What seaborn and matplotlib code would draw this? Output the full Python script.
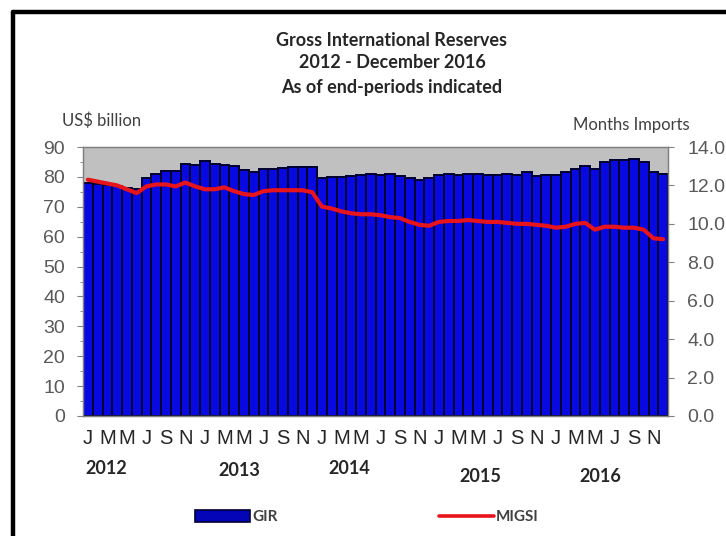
import numpy as np
import pandas as pd
import matplotlib
matplotlib.use("Agg")
import matplotlib.pyplot as plt
import seaborn as sns
from matplotlib.lines import Line2D
from matplotlib.patches import Patch
from matplotlib.ticker import MultipleLocator
from matplotlib.transforms import blended_transform_factory

# ---------------- data ----------------
years = ["2012", "2013", "2014", "2015", "2016"]
month_letters = ["J", "M", "M", "J", "S", "N"]   # labelled months: Jan, Mar, May, Jul, Sep, Nov

gir = [  # Gross International Reserves, US$ billion (end-month)
    77.8, 77.5, 77.2, 77.0, 76.3, 76.1, 79.6, 81.0, 81.9, 82.0, 84.2, 84.1,   # 2012
    85.3, 84.2, 84.0, 83.8, 82.2, 81.5, 82.8, 82.8, 83.1, 83.3, 83.3, 83.2,   # 2013
    79.7, 80.0, 79.9, 80.3, 80.6, 80.8, 80.7, 80.8, 80.2, 79.6, 79.0, 79.5,   # 2014
    80.5, 80.9, 80.7, 80.9, 80.8, 80.6, 80.5, 80.8, 80.6, 81.5, 80.4, 80.6,   # 2015
    80.5, 81.6, 82.8, 83.5, 82.8, 85.0, 85.6, 85.6, 86.1, 85.0, 81.6, 80.9,   # 2016
]
migsi = [  # months of imports of goods & services and income
    12.3, 12.2, 12.1, 12.0, 11.8, 11.6, 11.95, 12.05, 12.05, 11.95, 12.15, 11.95,
    11.8, 11.8, 11.9, 11.7, 11.55, 11.5, 11.7, 11.75, 11.75, 11.75, 11.75, 11.65,
    10.9, 10.8, 10.65, 10.55, 10.5, 10.5, 10.45, 10.35, 10.3, 10.1, 9.95, 9.9,
    10.1, 10.15, 10.15, 10.2, 10.15, 10.1, 10.1, 10.05, 10.0, 10.0, 9.95, 9.9,
    9.8, 9.85, 10.0, 10.05, 9.7, 9.85, 9.85, 9.8, 9.8, 9.7, 9.25, 9.2,
]
year_label_pos = [1.9, 15.5, 26.8, 40.2, 52.6]
year_label_y = [469, 471, 469, 476, 476]   # pixel rows of year labels

# ---------------- style ----------------
sns.set_theme(style="white")
plt.rcParams["font.family"] = ["Liberation Sans", "DejaVu Sans"]

W, H = 726, 536
fig = plt.figure(figsize=(W / 100, H / 100), dpi=100)
fig.patch.set_facecolor("white")

L, R, T, B = 83, 668, 147, 416
ax = fig.add_axes([L / W, 1 - B / H, (R - L) / W, (B - T) / H])

n = len(gir)
df = pd.DataFrame({"idx": np.arange(n), "GIR": gir, "MIGSI": migsi})

BAR_FACE = "#0808E0"
RED = "#E8141B"
sns.barplot(data=df, x="idx", y="GIR", color=BAR_FACE, saturation=1,
            width=1.0, edgecolor="#000030", linewidth=1.4, ax=ax, zorder=2)
ax.set_facecolor("#C0C0C0")

ax2 = ax.twinx()
sns.lineplot(data=df, x="idx", y="MIGSI", color=RED, linewidth=3.0,
             ax=ax2, zorder=3)

ax.set_xlim(-0.5, n - 0.5)
ax.set_ylim(0, 90)
ax2.set_ylim(0, 14)

# y axes
ax.set_yticks(range(0, 91, 10))
ax.yaxis.set_minor_locator(MultipleLocator(5))
ax.tick_params(axis="y", which="major", left=True, length=4.5, width=0.8,
               color="#808080", direction="out", labelsize=14,
               labelcolor="#595959", pad=8.5)
ax.tick_params(axis="y", which="minor", left=True, length=2.5, width=0.6,
               color="#808080", direction="out")
ax2.set_yticks(np.arange(0, 14.1, 2))
ax2.set_yticklabels([f"{v:.1f}" for v in np.arange(0, 14.1, 2)])
ax2.tick_params(axis="y", right=True, length=4.5, width=0.8, color="#808080",
                direction="out", labelsize=14, labelcolor="#595959", pad=9.5)

# x axis
ticks = list(range(0, n, 2))
ax.set_xticks(ticks)
ax.set_xticklabels([month_letters[(t % 12) // 2] for t in ticks])
ax.tick_params(axis="x", bottom=True, length=0, labelsize=14.5,
               labelcolor="#262626", pad=9)
ax.set_xlabel("")
ax.set_ylabel("")
ax2.set_ylabel("")
ax2.set_xlabel("")

for a in (ax, ax2):
    for s in a.spines.values():
        s.set_color("#808080")
        s.set_linewidth(0.9)

# year labels
trans = blended_transform_factory(ax.transData, fig.transFigure)
for yr, xp, yp in zip(years, year_label_pos, year_label_y):
    ax.text(xp, 1 - yp / H, yr, transform=trans, ha="center", va="center",
            fontsize=13, fontweight="bold", color="#262626", family="Lato")

# titles
title_lines = ["Gross International Reserves", "2012 - December 2016",
               "As of end-periods indicated"]
for line, yp in zip(title_lines, [40, 63, 87]):
    fig.text(392 / W, 1 - yp / H, line, ha="center", va="center",
             fontsize=13, fontweight="bold", color="#262626", family="Lato")

fig.text(62 / W, 1 - 121 / H, "US$ billion", ha="left", va="center",
         fontsize=12, color="#404040", family="Lato")
fig.text(573 / W, 1 - 125 / H, "Months Imports", ha="left", va="center",
         fontsize=12, color="#404040", family="Lato")

# legend
handles = [Patch(facecolor="#0505B8", edgecolor="#000030", linewidth=1.2),
           Line2D([0], [0], color=RED, linewidth=2.6)]
leg = fig.legend(handles, ["GIR", "MIGSI"], loc="center",
                 bbox_to_anchor=(367 / W, 1 - 517 / H), ncol=2, frameon=False,
                 handlelength=3.6, handleheight=0.8, handletextpad=0.15,
                 columnspacing=10.5,
                 prop={"family": "Lato", "weight": "bold", "size": 11})
for t in leg.get_texts():
    t.set_color("#404040")

# outer black frame (top and left edges visible)
fig.add_artist(Line2D([13 / W, 13 / W], [0, 1 - 12 / H], transform=fig.transFigure,
                      color="black", linewidth=3.2))
fig.add_artist(Line2D([13 / W, 1], [1 - 12 / H, 1 - 12 / H], transform=fig.transFigure,
                      color="black", linewidth=3.2))

fig.savefig("out.png", dpi=100)
